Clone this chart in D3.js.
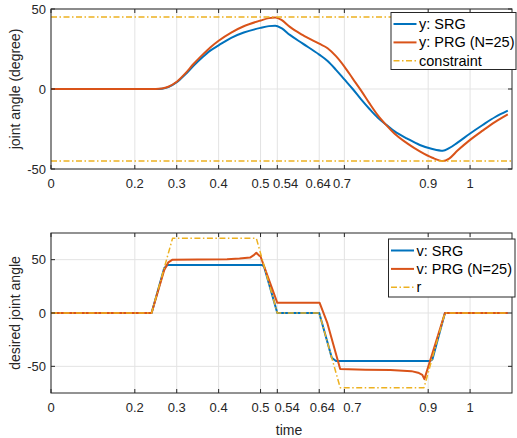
<!DOCTYPE html>
<html lang="en">
<head>
    <meta charset="UTF-8">
    <title>Joint angle: SRG vs PRG</title>
    <script src="https://d3js.org/d3.v7.min.js"></script>
    <style>
        body { margin: 0; background: #fff; }
        svg { display: block; font-family: "Liberation Sans", Arial, sans-serif; }
        .grid line { stroke: #e3e3e3; stroke-width: 1; }
        .tick-label { font-size: 13px; fill: #262626; }
        .axis-label { font-size: 14px; fill: #262626; }
        .legend-text { font-size: 14.5px; fill: #000; }
    </style>
</head>
<body>
<svg id="chart" width="517" height="438"></svg>
<script>
    // shared x ticks
    const xTicks = [0, 0.2, 0.3, 0.4, 0.5, 0.54, 0.64, 0.7, 0.9, 1];

    // top panel: joint angle (degree)
    const tTop = [0, 0.25, 0.265, 0.28, 0.30, 0.32, 0.34, 0.36, 0.38, 0.40, 0.43, 0.46, 0.50, 0.52, 0.535,
        0.55, 0.57, 0.60, 0.64, 0.66, 0.68, 0.70, 0.72, 0.74, 0.76, 0.78, 0.80, 0.82, 0.85, 0.88, 0.91,
        0.935, 0.95, 0.97, 1.00, 1.03, 1.06, 1.09];
    const ySRG = [0, 0, 0.2, 1.2, 4.2, 9, 14.5, 19.5, 24, 27.3, 32, 35.3, 38.2, 39.3, 39.6,
        38, 33.8, 28.5, 21.5, 17.5, 12, 6, 0, -6.5, -12.5, -18, -22.3, -26.5, -31, -35, -37.5,
        -38.6, -37, -33.5, -27.8, -22.5, -17.5, -13.5];
    const yPRG = [0, 0, 0.3, 1.4, 4.5, 9.6, 15.6, 21, 26, 30.2, 35.3, 39.2, 42.8, 44.3, 44.7,
        43.2, 38.8, 33.8, 28.3, 25.5, 20.5, 14, 6.5, -1, -9, -16.5, -22.6, -28, -34, -39, -43,
        -45, -43.5, -38.5, -31.8, -26, -20.5, -15.8];
    const constraint = [45, -45];
    const tSpan = [0, 1.1];

    // bottom panel: desired joint angle
    const tR = [0, 0.24, 0.29, 0.49, 0.54, 0.64, 0.69, 0.89, 0.94, 1.09];
    const r = [0, 0, 70, 70, 0, 0, -70, -70, 0, 0];
    const tVS = [0, 0.24, 0.27, 0.278, 0.503, 0.508, 0.54, 0.64, 0.67, 0.68, 0.905, 0.91, 0.94, 1.09];
    const vSRG = [0, 0, 42, 45, 45, 44, 0, 0, -42, -45, -45, -43.5, 0, 0];
    const tVP = [0, 0.24, 0.27, 0.28, 0.29, 0.35, 0.42, 0.45, 0.475, 0.483, 0.49, 0.496, 0.50, 0.54,
        0.641, 0.659, 0.69, 0.75, 0.81, 0.86, 0.876, 0.886, 0.891, 0.94, 1.09];
    const vPRG = [0, 0, 40, 47.5, 50, 50.2, 50.5, 51, 52, 54, 56.5, 54, 53, 9.5,
        9.5, -9, -52.5, -53.2, -53.5, -54.5, -56, -58, -62, 0, 0];

    const colors = { srg: "#0072BD", prg: "#D95319", ref: "#EDB120" };
    const ink = "#262626";
    const dashDot = "6,2.5,1.5,2.5";

    const svg = d3.select("#chart");
    const x = d3.scaleLinear().domain([0, 1.1]).range([51, 512]);

    function panel(opts) {
        const y = d3.scaleLinear().domain(opts.yDomain).range([opts.bottom, opts.top]);
        const g = svg.append("g");
        const [x0, x1] = x.range();

        // grid
        const grid = g.append("g").attr("class", "grid");
        grid.selectAll(".gx").data(xTicks).enter().append("line")
            .attr("x1", d => x(d)).attr("x2", d => x(d))
            .attr("y1", opts.top).attr("y2", opts.bottom);
        grid.selectAll(".gy").data(opts.yTicks).enter().append("line")
            .attr("x1", x0).attr("x2", x1)
            .attr("y1", d => y(d)).attr("y2", d => y(d));

        // series (each may hold more than one path)
        opts.series.forEach(s => {
            s.paths.forEach(p => {
                const pts = p.t.map((t, i) => [t, p.v[i]]);
                g.append("path")
                    .datum(pts)
                    .attr("fill", "none")
                    .attr("stroke", s.color)
                    .attr("stroke-width", s.width)
                    .attr("stroke-dasharray", s.dash || null)
                    .attr("stroke-linejoin", "round")
                    .attr("d", d3.line().x(d => x(d[0])).y(d => y(d[1])).curve(s.curve || d3.curveLinear));
            });
        });

        // box + inward ticks
        g.append("rect").attr("x", x0).attr("y", opts.top)
            .attr("width", x1 - x0).attr("height", opts.bottom - opts.top)
            .attr("fill", "none").attr("stroke", ink).attr("stroke-width", 1);
        const tl = 4;
        g.selectAll(".tkb").data(xTicks).enter().append("line")
            .attr("x1", d => x(d)).attr("x2", d => x(d))
            .attr("y1", opts.bottom).attr("y2", opts.bottom - tl).attr("stroke", ink);
        g.selectAll(".tkt").data(xTicks).enter().append("line")
            .attr("x1", d => x(d)).attr("x2", d => x(d))
            .attr("y1", opts.top).attr("y2", opts.top + tl).attr("stroke", ink);
        g.selectAll(".tkl").data(opts.yTicks).enter().append("line")
            .attr("x1", x0).attr("x2", x0 + tl)
            .attr("y1", d => y(d)).attr("y2", d => y(d)).attr("stroke", ink);
        g.selectAll(".tkr").data(opts.yTicks).enter().append("line")
            .attr("x1", x1).attr("x2", x1 - tl)
            .attr("y1", d => y(d)).attr("y2", d => y(d)).attr("stroke", ink);

        // tick labels (crowded ones nudged like in the original figure)
        g.selectAll(".xl").data(xTicks).enter().append("text")
            .attr("class", "tick-label")
            .attr("x", (d, i) => x(d) + (opts.nudge[i] || 0)).attr("y", opts.bottom + 14)
            .attr("text-anchor", "middle").attr("dominant-baseline", "central")
            .text(d => d3.format("~g")(d));
        g.selectAll(".yl").data(opts.yTicks).enter().append("text")
            .attr("class", "tick-label")
            .attr("x", x0 - 5).attr("y", d => y(d))
            .attr("text-anchor", "end").attr("dominant-baseline", "central")
            .text(d => d);

        // y label
        g.append("text").attr("class", "axis-label")
            .attr("transform", `translate(15,${(opts.top + opts.bottom) / 2}) rotate(-90)`)
            .attr("text-anchor", "middle").attr("dominant-baseline", "central")
            .text(opts.yLabel);

        // legend
        const L = opts.legend;
        g.append("rect").attr("x", L.x).attr("y", L.y).attr("width", L.w).attr("height", L.h)
            .attr("fill", "#fff").attr("stroke", ink).attr("stroke-width", 1);
        opts.series.forEach((s, i) => {
            const cy = L.y + 11.5 + i * 18.4;
            g.append("line").attr("x1", L.x + 2.5).attr("x2", L.x + 25.5)
                .attr("y1", cy).attr("y2", cy)
                .attr("stroke", s.color).attr("stroke-width", s.width)
                .attr("stroke-dasharray", s.dash || null);
            g.append("text").attr("class", "legend-text")
                .attr("x", L.x + 28).attr("y", cy)
                .attr("dominant-baseline", "central")
                .text(s.name);
        });
        return y;
    }

    panel({
        top: 9, bottom: 169, yDomain: [-50, 50], yTicks: [-50, 0, 50],
        yLabel: "joint angle (degree)",
        nudge: [0, 0, 0, 0, 0, 8.3, -1, -2.3, 0, 0],
        legend: { x: 391, y: 12.5, w: 125, h: 57 },
        series: [
            { name: "y: SRG", color: colors.srg, width: 2, curve: d3.curveMonotoneX,
              paths: [{ t: tTop, v: ySRG }] },
            { name: "y: PRG (N=25)", color: colors.prg, width: 2, curve: d3.curveMonotoneX,
              paths: [{ t: tTop, v: yPRG }] },
            { name: "constraint", color: colors.ref, width: 1.5, dash: dashDot,
              paths: constraint.map(c => ({ t: tSpan, v: [c, c] })) }
        ]
    });

    panel({
        top: 233, bottom: 393, yDomain: [-75, 75], yTicks: [-50, 0, 50],
        yLabel: "desired joint angle",
        nudge: [0, 0, 0, 0, 0, 9.8, 3.2, 8, 0, 0],
        legend: { x: 388.5, y: 239, w: 126.5, h: 58 },
        series: [
            { name: "v: SRG", color: colors.srg, width: 2, paths: [{ t: tVS, v: vSRG }] },
            { name: "v: PRG (N=25)", color: colors.prg, width: 2, paths: [{ t: tVP, v: vPRG }] },
            { name: "r", color: colors.ref, width: 1.5, dash: dashDot, paths: [{ t: tR, v: r }] }
        ]
    });

    svg.append("text").attr("class", "axis-label")
        .attr("x", 289).attr("y", 430)
        .attr("text-anchor", "middle").attr("dominant-baseline", "central")
        .text("time");
</script>
</body>
</html>
